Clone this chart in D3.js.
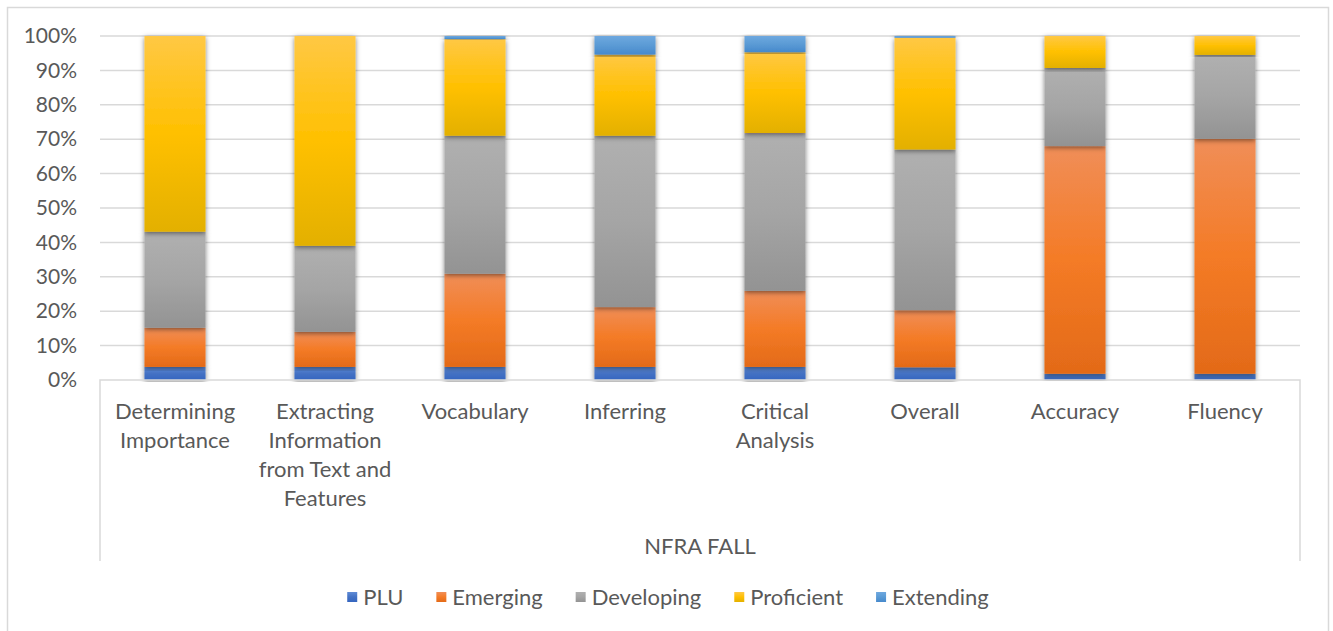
<!DOCTYPE html>
<html>
<head>
<meta charset="utf-8">
<script src="https://cdn.jsdelivr.net/npm/d3@7"></script>
<style>
  body { margin: 0; background: #fff; }
  text { font-family: Lato, "Open Sans", sans-serif; fill: #595959; }
</style>
</head>
<body>
<script>
// data (percent of students)
var categories = ["Determining Importance", "Extracting Information from Text and Features",
  "Vocabulary", "Inferring", "Critical Analysis", "Overall", "Accuracy", "Fluency"];
var seriesNames = ["PLU", "Emerging", "Developing", "Proficient", "Extending"];
var plu        = [3.8, 3.8, 3.8, 3.8, 3.8, 3.7, 1.8, 1.8];
var emerging   = [11.4, 10.2, 27.1, 17.4, 22.1, 16.6, 66.2, 68.3];
var developing = [27.9, 25.0, 40.1, 49.8, 45.9, 46.7, 22.7, 24.4];
var proficient = [56.9, 61.0, 28.1, 23.6, 23.5, 32.5, 9.3, 5.5];
var extending  = [0, 0, 0.9, 5.4, 4.7, 0.5, 0, 0];
var yTicks = [0, 10, 20, 30, 40, 50, 60, 70, 80, 90, 100];
var axisTitle = "NFRA FALL";

// gradient stops per series: top, middle, bottom
var colors = {
  PLU:        ["#5f8bd6", "#4472c4", "#3566c0"],
  Emerging:   ["#f08e58", "#f47b26", "#e36a18"],
  Developing: ["#b0b0b0", "#a5a5a5", "#939393"],
  Proficient: ["#ffc844", "#ffc000", "#e3b000"],
  Extending:  ["#6ea8df", "#5b9bd5", "#4689cc"]
};

var W = 1333, H = 631;
var margin = { top: 36, right: 33, bottom: 251, left: 100 },
    width = W - margin.left - margin.right,
    height = H - margin.top - margin.bottom;

var rows = categories.map(function(c, i) {
  return { cat: c, PLU: plu[i], Emerging: emerging[i], Developing: developing[i],
           Proficient: proficient[i], Extending: extending[i] };
});

var svg = d3.select("body").append("svg")
    .attr("width", W)
    .attr("height", H);

var defs = svg.append("defs");
seriesNames.forEach(function(s) {
  var g = defs.append("linearGradient")
      .attr("id", "grad-" + s)
      .attr("x1", 0).attr("y1", 0).attr("x2", 0).attr("y2", 1);
  g.append("stop").attr("offset", "0%").attr("stop-color", colors[s][0]);
  g.append("stop").attr("offset", "50%").attr("stop-color", colors[s][1]);
  g.append("stop").attr("offset", "100%").attr("stop-color", colors[s][2]);
});
defs.append("filter")
    .attr("id", "shadow")
    .attr("x", "-30%").attr("y", "-10%").attr("width", "160%").attr("height", "120%")
  .append("feDropShadow")
    .attr("dx", 0).attr("dy", 1.5).attr("stdDeviation", 2.4)
    .attr("flood-color", "#000").attr("flood-opacity", 0.5);

// outer chart border
svg.append("rect")
    .attr("x", 7.5).attr("y", 7.5)
    .attr("width", 1321).attr("height", 640)
    .attr("fill", "none")
    .attr("stroke", "#d9d9d9")
    .attr("stroke-width", 1.5);

var g = svg.append("g")
    .attr("transform", "translate(" + margin.left + "," + margin.top + ")");

var x = d3.scaleBand()
    .domain(categories)
    .range([0, width])
    .paddingInner(0.593)
    .paddingOuter(0.2965);

var y = d3.scaleLinear()
    .domain([0, 100])
    .range([height, 0]);

// gridlines
g.append("g")
  .selectAll("line")
  .data(yTicks.filter(function(d) { return d > 0; }))
  .enter().append("line")
    .attr("x1", 0).attr("x2", width)
    .attr("y1", function(d) { return y(d); })
    .attr("y2", function(d) { return y(d); })
    .attr("stroke", "#d9d9d9")
    .attr("stroke-width", 1.5);

// y axis labels
var yAxis = d3.axisLeft(y)
    .tickValues(yTicks)
    .tickFormat(function(d) { return d + "%"; })
    .tickSize(0)
    .tickPadding(23);
var ya = g.append("g").call(yAxis);
ya.select(".domain").remove();
ya.selectAll("text")
    .style("font-size", "21px")
    .style("fill", "#595959");

// stacked bars
var stack = d3.stack().keys(seriesNames);
var layers = g.append("g")
  .selectAll("g")
  .data(stack(rows))
  .enter().append("g")
    .attr("fill", function(d) { return "url(#grad-" + d.key + ")"; });

layers.selectAll("rect")
  .data(function(d) { return d; })
  .enter().filter(function(d) { return d[1] - d[0] > 0; }).append("rect")
    .attr("x", function(d) { return x(d.data.cat); })
    .attr("y", function(d) { return y(d[1]); })
    .attr("width", x.bandwidth())
    .attr("height", function(d) { return y(d[0]) - y(d[1]); })
    .attr("filter", "url(#shadow)");

// category axis box (bottom line plus side lines)
var boxBottom = 181;
g.append("path")
    .attr("d", "M0," + (height + boxBottom) + "V" + height + "H" + width + "V" + (height + boxBottom))
    .attr("fill", "none")
    .attr("stroke", "#d9d9d9")
    .attr("stroke-width", 1.5);

// category labels, wrapped to the band
var labels = g.append("g")
  .selectAll("text")
  .data(categories)
  .enter().append("text")
    .attr("x", function(d) { return x(d) + x.bandwidth() / 2; })
    .attr("y", height + 39)
    .attr("text-anchor", "middle")
    .style("font-size", "22px")
    .text(function(d) { return d; });

labels.each(function(d) {
  var t = d3.select(this), words = d.split(" "), line = [];
  var cx = t.attr("x");
  t.text(null);
  var span = t.append("tspan").attr("x", cx).attr("dy", 0);
  words.forEach(function(w) {
    line.push(w);
    span.text(line.join(" "));
    if (span.node().getComputedTextLength() > 145 && line.length > 1) {
      line.pop();
      span.text(line.join(" "));
      line = [w];
      span = t.append("tspan").attr("x", cx).attr("dy", 29).text(w);
    }
  });
});

g.append("text")
    .attr("x", width / 2)
    .attr("y", height + 174)
    .attr("text-anchor", "middle")
    .style("font-size", "22px")
    .text(axisTitle);

// legend
var legend = svg.append("g").attr("transform", "translate(0,597)");
var items = legend.selectAll("g")
  .data(seriesNames)
  .enter().append("g");
items.append("rect")
    .attr("width", 10).attr("height", 10)
    .attr("y", -5)
    .attr("fill", function(d) { return "url(#grad-" + d + ")"; });
items.append("text")
    .attr("x", 16)
    .attr("dy", "0.35em")
    .style("font-size", "22px")
    .text(function(d) { return d; });

var gap = 33, pos = 0, offsets = [];
items.each(function() {
  offsets.push(pos);
  pos += 16 + d3.select(this).select("text").node().getComputedTextLength() + gap;
});
var total = pos - gap;
var start = (7 + 1329) / 2 - total / 2;
items.attr("transform", function(d, i) { return "translate(" + (start + offsets[i]) + ",0)"; });
</script>
</body>
</html>
